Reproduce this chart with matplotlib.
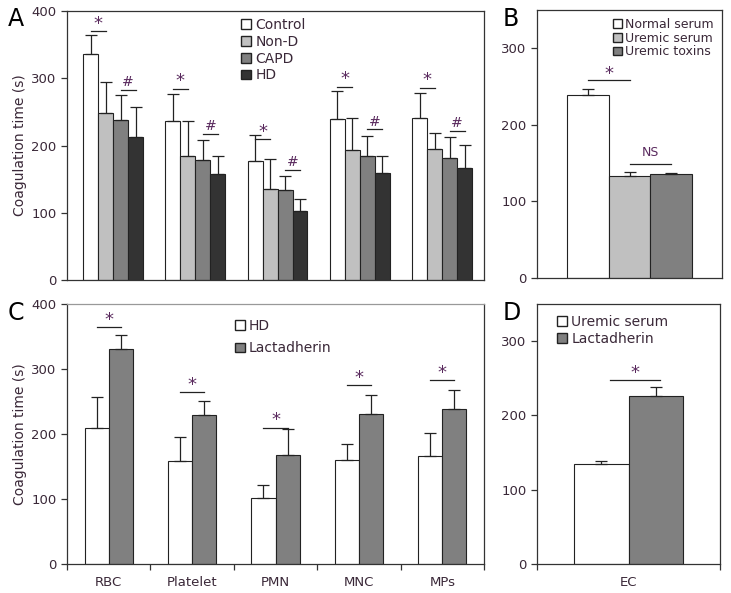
import matplotlib
matplotlib.use("Agg")
import matplotlib.pyplot as plt
from matplotlib.patches import Patch
import numpy as np

plt.rcParams['font.family'] = ['DejaVu Sans']
plt.rcParams['font.size'] = 9.5

TXT = '#3a2838'
STAR = '#5a2a5e'

# panel A
cells_a = ['RBC', 'Platelet', 'PMN', 'MNC', 'MPs']
groups_a = ['Control', 'Non-D', 'CAPD', 'HD']
mean_a = [[336, 249, 238, 212],
          [236, 185, 179, 157],
          [177, 136, 134, 103],
          [240, 193, 185, 159],
          [241, 195, 182, 166]]
top_a = [[364, 294, 275, 257],
         [276, 236, 208, 184],
         [215, 180, 155, 120],
         [281, 241, 214, 185],
         [278, 219, 212, 201]]
star_a = [370, 284, 209, 287, 286]
hash_a = [283, 217, 164, 224, 222]
colors_a = ['white', '#c0c0c0', '#808080', '#333333']

# panel B
groups_b = ['Normal serum', 'Uremic serum', 'Uremic toxins']
mean_b = [239, 133, 136]
top_b = [247, 138, 137]
colors_b = ['white', '#c0c0c0', '#808080']

# panel C
cells_c = ['RBC', 'Platelet', 'PMN', 'MNC', 'MPs']
groups_c = ['HD', 'Lactadherin']
hd_c = [209, 158, 101, 160, 166]
hd_top_c = [257, 195, 121, 185, 202]
lac_c = [331, 229, 168, 231, 239]
lac_top_c = [353, 251, 207, 260, 268]
star_c = [364, 264, 210, 275, 283]

# panel D
groups_d = ['Uremic serum', 'Lactadherin']
mean_d = [134, 226]
top_d = [139, 238]

W, H = 731, 593
fig = plt.figure(figsize=(W / 100, H / 100), dpi=100)


def ax_px(l, r, t, b):
    return fig.add_axes([l / W, (H - b) / H, (r - l) / W, (b - t) / H])


def style(ax):
    for s in ax.spines.values():
        s.set_color('#333333')
        s.set_linewidth(0.9)
    ax.tick_params(colors='#333333', labelcolor=TXT, length=4, width=0.9)


def bars(ax, x, vals, tops, w, colors):
    vals = np.array(vals, float)
    err = np.array(tops, float) - vals
    ax.bar(x, vals, w, color=colors, edgecolor='#222222', linewidth=0.8)
    ax.errorbar(x, vals, yerr=[np.zeros_like(err), err], fmt='none',
                ecolor='#222222', elinewidth=0.9, capsize=4, capthick=0.9)


def mark(ax, x1, x2, y, s, dy, size=12):
    ax.plot([x1, x2], [y, y], color='#222222', lw=0.9)
    ax.text((x1 + x2) / 2, y + dy, s, ha='center', va='bottom',
            color=STAR, fontsize=size)


# ---- A
axA = ax_px(67, 484, 11, 280)
style(axA)
bw = 0.182
xa = np.arange(len(cells_a))
for j in range(4):
    bars(axA, xa + (j - 1.5) * bw, [m[j] for m in mean_a], [t[j] for t in top_a],
         bw, colors_a[j])
for i in range(len(cells_a)):
    mark(axA, xa[i] - 1.5 * bw, xa[i] - 0.5 * bw, star_a[i], '*', -2, 13)
    mark(axA, xa[i] + 0.5 * bw, xa[i] + 1.5 * bw, hash_a[i], '#', 1, 10)
axA.set_xlim(-0.56, 4.51)
axA.set_ylim(0, 400)
axA.set_yticks([0, 100, 200, 300, 400])
axA.set_xticks([])
axA.set_ylabel('Coagulation time (s)', color=TXT, fontsize=10, labelpad=3)
axA.legend(handles=[Patch(facecolor=c, edgecolor='#222222', label=g)
                    for c, g in zip(colors_a, groups_a)],
           loc='upper left', bbox_to_anchor=(0.395, 1.01), frameon=False,
           handlelength=0.7, handleheight=0.7, handletextpad=0.3,
           labelspacing=0.2, borderaxespad=0.3, fontsize=10, labelcolor=TXT)

# ---- B
axB = ax_px(537, 722, 10, 278)
style(axB)
xb = np.arange(len(groups_b))
bars(axB, xb, mean_b, top_b, 1.0, colors_b)
mark(axB, 0, 1, 258, '*', -3, 13)
mark(axB, 1, 2, 149, 'NS', 6, 9)
axB.set_xlim(-1.23, 3.23)
axB.set_ylim(0, 350)
axB.set_yticks([0, 100, 200, 300])
axB.set_xticks([])
axB.legend(handles=[Patch(facecolor=c, edgecolor='#222222', label=g)
                    for c, g in zip(colors_b, groups_b)],
           loc='upper right', bbox_to_anchor=(1.0, 1.0), frameon=False,
           handlelength=0.7, handleheight=0.7, handletextpad=0.3,
           labelspacing=0.05, borderaxespad=0.25, fontsize=9, labelcolor=TXT)

# ---- C
axC = ax_px(67, 484, 304, 564)
style(axC)
axC.spines['top'].set_color('#999999')
bc = 0.288
xc = np.arange(len(cells_c))
bars(axC, xc - bc / 2, hd_c, hd_top_c, bc, 'white')
bars(axC, xc + bc / 2, lac_c, lac_top_c, bc, '#808080')
for i in range(len(cells_c)):
    mark(axC, xc[i] - bc / 2, xc[i] + bc / 2, star_c[i], '*', -3, 13)
axC.set_xlim(-0.5, 4.5)
axC.set_ylim(0, 400)
axC.set_yticks([0, 100, 200, 300, 400])
axC.set_xticks(xc)
axC.set_xticklabels(cells_c)
axC.set_xticks(np.arange(-0.5, 5.0, 1.0), minor=True)
axC.tick_params(axis='x', which='major', length=0, pad=9)
axC.tick_params(axis='x', which='minor', length=4, width=0.9, color='#333333')
axC.set_ylabel('Coagulation time (s)', color=TXT, fontsize=10, labelpad=3)
axC.legend(handles=[Patch(facecolor=c, edgecolor='#222222', label=g)
                    for c, g in zip(['white', '#808080'], groups_c)],
           loc='upper left', bbox_to_anchor=(0.38, 0.98), frameon=False,
           handlelength=0.7, handleheight=0.7, handletextpad=0.3,
           labelspacing=0.6, borderaxespad=0.3, fontsize=10, labelcolor=TXT)

# ---- D
axD = ax_px(537, 720, 304, 564)
style(axD)
bd = 0.3
bars(axD, [-bd / 2, bd / 2], mean_d, top_d, bd, ['white', '#808080'])
mark(axD, -bd / 2 + 0.05, bd / 2 + 0.02, 248, '*', -3, 13)
axD.set_xlim(-0.5, 0.5)
axD.set_ylim(0, 350)
axD.set_yticks([0, 100, 200, 300])
axD.set_xticks([0])
axD.set_xticklabels(['EC'])
axD.set_xticks([-0.5, 0.5], minor=True)
axD.tick_params(axis='x', which='major', length=0, pad=9)
axD.tick_params(axis='x', which='minor', length=4, width=0.9, color='#333333')
axD.legend(handles=[Patch(facecolor=c, edgecolor='#222222', label=g)
                    for c, g in zip(['white', '#808080'], groups_d)],
           loc='upper left', bbox_to_anchor=(0.05, 1.0), frameon=False,
           handlelength=0.7, handleheight=0.7, handletextpad=0.3,
           labelspacing=0.2, borderaxespad=0.4, fontsize=10, labelcolor=TXT)

# panel letters
for s, x, y in [('A', 8, 26), ('B', 503, 26), ('C', 8, 320), ('D', 503, 320)]:
    fig.text(x / W, 1 - y / H, s, fontsize=17, color='black', ha='left', va='baseline')

fig.savefig('out.png', dpi=100)
